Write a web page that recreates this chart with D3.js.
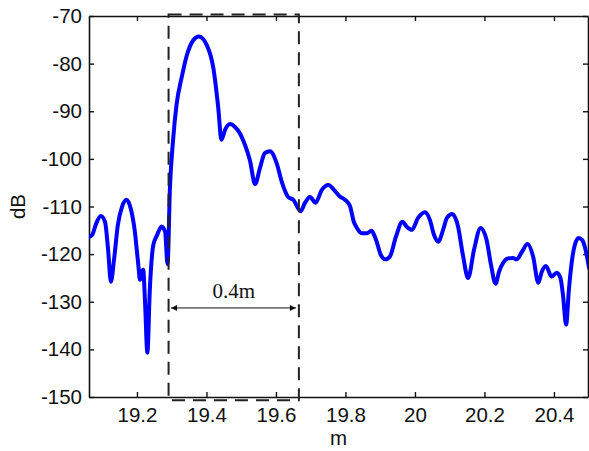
<!DOCTYPE html>
<html>
<head>
<meta charset="utf-8">
<script src="https://cdn.jsdelivr.net/npm/d3@7"></script>
<style>
  html, body { margin: 0; padding: 0; background: #fff; }
  svg { display: block; }
  .tick text { font-family: "Liberation Sans", Arial, sans-serif; font-size: 20.5px; fill: #111; }
</style>
</head>
<body>
<svg id="chart" width="589" height="451"></svg>
<script>
// Range profile: distance (m) vs level (dB)
const distance = [
  19.062, 19.071, 19.082, 19.096, 19.108, 19.117, 19.125, 19.134, 19.145, 19.157,
  19.170, 19.183, 19.194, 19.203, 19.209, 19.214, 19.218, 19.223, 19.230, 19.237,
  19.247, 19.258, 19.271, 19.281, 19.288, 19.295, 19.304, 19.314, 19.329, 19.343,
  19.362, 19.378, 19.401, 19.420, 19.434, 19.443, 19.453, 19.468, 19.482, 19.496,
  19.511, 19.525, 19.540, 19.554, 19.568, 19.583, 19.602, 19.617, 19.635, 19.650,
  19.671, 19.683, 19.698, 19.714, 19.732, 19.751, 19.767, 19.784, 19.799, 19.813,
  19.824, 19.833, 19.847, 19.862, 19.875, 19.888, 19.902, 19.915, 19.928, 19.945,
  19.964, 19.977, 19.991, 20.009, 20.029, 20.043, 20.055, 20.067, 20.081, 20.092,
  20.107, 20.124, 20.138, 20.153, 20.170, 20.189, 20.206, 20.219, 20.232, 20.242,
  20.254, 20.268, 20.282, 20.293, 20.308, 20.324, 20.340, 20.355, 20.365, 20.377,
  20.393, 20.408, 20.419, 20.426, 20.435, 20.443, 20.451, 20.460, 20.471, 20.481,
  20.489, 20.501
];
const level = [
  -116.4, -116.0, -113.7, -112.0, -113.2, -119.1, -125.8, -121.2, -113.9, -110.1,
  -108.6, -110.7, -115.3, -121.6, -125.4, -123.7, -123.3, -129.6, -140.7, -127.5,
  -118.1, -116.0, -114.2, -115.3, -122.1, -106.0, -96.0, -88.6, -82.8, -78.4,
  -75.1, -74.3, -76.1, -81.0, -89.3, -96.0, -94.0, -92.7, -93.3, -94.6,
  -97.1, -100.3, -105.3, -101.9, -98.8, -98.4, -100.9, -104.9, -108.0, -108.6,
  -111.0, -109.3, -108.0, -109.2, -106.5, -105.5, -106.5, -107.9, -108.6, -109.9,
  -113.2, -114.5, -115.6, -115.6, -115.1, -117.0, -120.2, -121.1, -120.5, -116.4,
  -113.2, -114.3, -114.9, -112.4, -111.2, -112.8, -116.0, -117.4, -114.9, -112.4,
  -111.6, -114.2, -120.2, -125.0, -119.1, -114.5, -117.0, -122.3, -126.2, -123.7,
  -121.8, -120.9, -120.8, -121.1, -119.5, -117.9, -120.5, -126.0, -123.7, -122.5,
  -124.7, -123.9, -125.1, -128.6, -134.8, -127.5, -121.8, -118.1, -116.6, -117.0,
  -118.5, -122.9
];

const xTicks = [19.2, 19.4, 19.6, 19.8, 20, 20.2, 20.4];
const yTicks = [-70, -80, -90, -100, -110, -120, -130, -140, -150];
const xDomain = [19.062, 20.498];
const yDomain = [-150, -70];

// Marked window and its width annotation
const windowX = [19.291, 19.666];
const windowY = [-150.7, -69.7];
const spanY = -131.3;
const spanLabel = "0.4m";

const svg = d3.select("#chart");
const plotLeft = 89, plotRight = 588, plotTop = 16, plotBottom = 397;

const x = d3.scaleLinear().domain(xDomain).range([plotLeft, plotRight]);
const y = d3.scaleLinear().domain(yDomain).range([plotBottom, plotTop]);

const defs = svg.append("defs");
defs.append("clipPath").attr("id", "plotClip")
  .append("rect").attr("x", plotLeft).attr("y", plotTop)
  .attr("width", plotRight - plotLeft).attr("height", plotBottom - plotTop);

// Axes: ticks point inward on all four sides
const fmt = d => String(d);
svg.append("g").attr("transform", `translate(0,${plotBottom})`)
  .call(d3.axisBottom(x).tickValues(xTicks).tickFormat(fmt).tickSizeInner(-5).tickSizeOuter(0).tickPadding(10));
svg.append("g").attr("transform", `translate(${plotLeft},0)`)
  .call(d3.axisLeft(y).tickValues(yTicks).tickFormat(fmt).tickSizeInner(-5).tickSizeOuter(0).tickPadding(7));
svg.append("g").attr("transform", `translate(0,${plotTop})`)
  .call(d3.axisTop(x).tickValues(xTicks).tickFormat("").tickSizeInner(-5).tickSizeOuter(0));
svg.append("g").attr("transform", `translate(${plotRight},0)`)
  .call(d3.axisRight(y).tickValues(yTicks).tickFormat("").tickSizeInner(-5).tickSizeOuter(0));

svg.selectAll(".domain").attr("stroke", "#111").attr("stroke-width", 1.6);
svg.selectAll(".tick line").attr("stroke", "#111").attr("stroke-width", 1.4);

// Curve
const pts = distance.map((d, i) => [d, level[i]]);
const line = d3.line()
  .x(d => x(d[0]))
  .y(d => y(d[1]))
  .curve(d3.curveMonotoneX);

svg.append("path")
  .datum(pts)
  .attr("clip-path", "url(#plotClip)")
  .attr("d", line)
  .attr("fill", "none")
  .attr("stroke", "#0000ff")
  .attr("stroke-width", 4)
  .attr("stroke-linejoin", "round")
  .attr("stroke-linecap", "round");

// Dashed window
svg.append("rect")
  .attr("x", x(windowX[0]))
  .attr("y", y(windowY[1]))
  .attr("width", x(windowX[1]) - x(windowX[0]))
  .attr("height", y(windowY[0]) - y(windowY[1]))
  .attr("fill", "none")
  .attr("stroke", "#222")
  .attr("stroke-width", 2)
  .attr("stroke-dasharray", "13,8");

// Double-headed arrow with label
defs.append("marker").attr("id", "arrowHead")
  .attr("viewBox", "0 0 10 10").attr("refX", 10).attr("refY", 5)
  .attr("markerWidth", 8).attr("markerHeight", 6)
  .attr("markerUnits", "userSpaceOnUse")
  .attr("orient", "auto-start-reverse")
  .append("path").attr("d", "M0,0 L10,5 L0,10 Z").attr("fill", "#111");

svg.append("line")
  .attr("x1", x(windowX[0]) + 2.5).attr("x2", x(windowX[1]) - 3)
  .attr("y1", y(spanY)).attr("y2", y(spanY))
  .attr("stroke", "#111").attr("stroke-width", 1)
  .attr("marker-start", "url(#arrowHead)")
  .attr("marker-end", "url(#arrowHead)");

svg.append("text")
  .attr("x", (x(windowX[0]) + x(windowX[1])) / 2)
  .attr("y", y(spanY) - 10)
  .attr("text-anchor", "middle")
  .attr("font-family", "'Liberation Serif', 'Times New Roman', serif")
  .attr("font-size", 21)
  .attr("fill", "#111")
  .text(spanLabel);

// Axis titles
svg.append("text")
  .attr("x", (plotLeft + plotRight) / 2).attr("y", 445)
  .attr("text-anchor", "middle")
  .attr("font-family", "'Liberation Sans', Arial, sans-serif")
  .attr("font-size", 20.5).attr("fill", "#111")
  .text("m");

svg.append("text")
  .attr("transform", `translate(25,${(plotTop + plotBottom) / 2}) rotate(-90)`)
  .attr("text-anchor", "middle")
  .attr("font-family", "'Liberation Sans', Arial, sans-serif")
  .attr("font-size", 20.5).attr("fill", "#111")
  .text("dB");
</script>
</body>
</html>
